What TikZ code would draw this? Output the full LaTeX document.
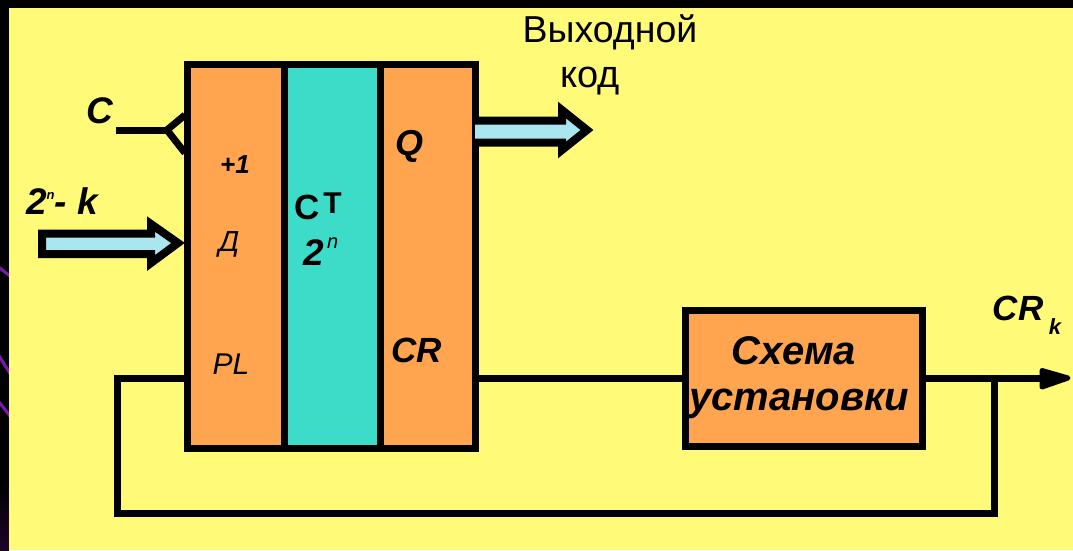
\documentclass[tikz,border=0pt]{standalone}
\usepackage{fontspec}
\setmainfont{Liberation Sans}
\usetikzlibrary{arrows.meta,calc}
\definecolor{bgy}{HTML}{FFFB78}
\definecolor{org}{HTML}{FFA550}
\definecolor{tealc}{HTML}{3CDCC8}
\definecolor{lblue}{HTML}{AAE6F0}
\definecolor{purp}{HTML}{7A18B0}
\definecolor{dkp}{HTML}{1C0428}
\tikzset{
 blk/.style={draw=black,line width=7pt,inner sep=0pt,outer sep=0pt,rectangle,anchor=north west},
 wire/.style={draw=black,line width=7pt,line join=miter},
 bus/.style={draw=black,fill=lblue,line width=8pt,line join=miter,miter limit=4},
 lab/.style={inner sep=0pt,outer sep=0pt,text=black},
}
\newcommand{\fs}[1]{\fontsize{#1pt}{#1pt}\selectfont}
\begin{document}
\begin{tikzpicture}[x=1pt,y=-1pt]
\useasboundingbox (0,0) rectangle (1073,550);
\fill[black] (0,0) rectangle (1073,550);
\shade[top color=black,bottom color=dkp] (0,480) rectangle (9,550);
\begin{scope}
\clip (0,0) rectangle (9,550);
\draw[purp,line width=3pt] (-2,266.5) -- (10,276);
\draw[purp,line width=3pt] (-2,354) -- (10,373.5);
\draw[purp,line width=3pt] (-2,400.5) -- (10,416);
\end{scope}
\fill[bgy] (9,8) rectangle (1073,550);
% boxes
\node[blk,fill=org,minimum width=96.5pt,minimum height=384pt] (L) at (187.5,64.5) {};
\node[blk,fill=tealc,minimum width=96.5pt,minimum height=384pt] (M) at (284,64.5) {};
\node[blk,fill=org,minimum width=95pt,minimum height=384pt] (R) at (380.5,64.5) {};
\node[blk,fill=org,minimum width=237pt,minimum height=136pt] (S) at (685.5,310.5) {};
% coordinates
\coordinate (cIn) at (116,130);
\coordinate (cV) at (167,130);
\coordinate (out) at (1042,378);
\coordinate (jn) at (994,378);
\coordinate (lb) at (117,378);
\coordinate (bb) at (117,513);
\coordinate (br) at (994,513);
% wires
\draw[wire] (cIn) -- (cV);
\draw[wire] (185,115) -- (cV) -- (185,153);
\draw[wire] (R.east|-lb) -- (S.west|-lb);
\draw[wire] (S.east|-lb) -- (out);
\filldraw[black,line width=5pt,line join=round] (1042,370.5) -- (1068,378) -- (1042,387) -- cycle;
\draw[wire] (L.west|-lb) -- (lb) -- (bb) -- (br) -- (jn);
% buses
\draw[bus] (42,233.5) -- (151,233.5) -- (151,224) -- (178,243) -- (151,263) -- (151,254) -- (42,254) -- cycle;
\draw[bus] (475,120.5) -- (562,120.5) -- (562,110) -- (587,130) -- (562,150) -- (562,142.5) -- (475,142.5);
% labels
\node[lab] (tC) at (100,111) {\fs{37}\bfseries\itshape C};
\node[lab] (t2k) at (62,201) {\fs{37}\bfseries\itshape 2\raisebox{15pt}{\fs{13}n}- k};
\node[lab] (tp1) at (235,165) {\fs{26}\bfseries\itshape +1};
\node[lab] (tD) at (229,244) {\fs{29}\itshape Д};
\node[lab] (tPL) at (231,364) {\fs{30}\itshape PL};
\node[lab] (tCT) at (318,206) {\fs{35}\bfseries C\kern4pt\raisebox{6pt}{\fs{30}T}};
\node[lab] (t2n) at (321,252) {\fs{37}\bfseries\itshape 2\kern3pt\raisebox{17pt}{\mdseries\fs{20}n}};
\node[lab] (tQ) at (409,146) {\fs{36}\bfseries\itshape Q};
\node[lab] (tCR) at (417,350) {\fs{35}\bfseries\itshape CR};
\node[lab] (tOut) at (610,32) {\fs{37.5}Выходной};
\node[lab] (tKod) at (590,81) {\fs{38}код};
\node[lab] (tSx) at (794,351) {\fs{40}\bfseries\itshape Схема};
\node[lab] (tUs) at (799,404) {\fs{40}\bfseries\itshape установки};
\node[lab] (tCRk) at (1018,308) {\fs{35}\bfseries\itshape CR};
\node[lab] (tk) at (1055,327) {\fs{22}\bfseries\itshape k};
\end{tikzpicture}
\end{document}
